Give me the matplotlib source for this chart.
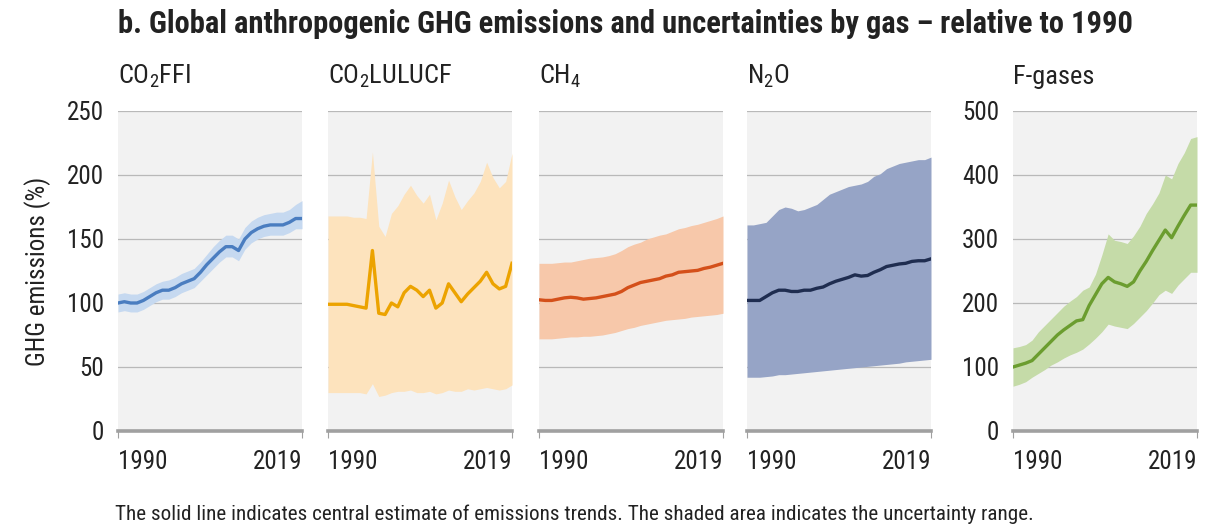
import numpy as np
import matplotlib.pyplot as plt
from matplotlib import font_manager as fm

# condensed face if there is one, else a plain sans with smaller text
avail = {f.name for f in fm.fontManager.ttflist}
cands = ['Roboto Condensed', 'Archivo Narrow', 'Asap Condensed', 'Open Sans Condensed']
fam = next((c for c in cands if c in avail), None)
k = 1.0
if fam is None:
    fam = 'Liberation Sans'
    k = 0.82
plt.rcParams['font.family'] = [fam, 'DejaVu Sans']
plt.rcParams['mathtext.fontset'] = 'custom'
plt.rcParams['mathtext.rm'] = fam
plt.rcParams['mathtext.it'] = fam

years = np.arange(1990, 2020)

# CO2 from fossil fuels and industry
co2ffi = [100, 101, 100, 100, 102, 105, 108, 110, 110, 112, 115, 117, 119, 124, 130,
          135, 140, 144, 144, 141, 150, 155, 158, 160, 161, 161, 161, 163, 166, 166]
co2ffi_lo = [93, 94, 93, 93, 95, 98, 101, 103, 103, 105, 108, 110, 112, 117, 122,
             127, 132, 136, 136, 133, 142, 147, 150, 152, 153, 153, 153, 155, 158, 158]
co2ffi_hi = [107, 108, 107, 107, 109, 112, 115, 117, 118, 120, 123, 125, 127, 132, 138,
             144, 149, 153, 153, 150, 159, 164, 167, 169, 170, 171, 171, 173, 177, 180]

# CO2 from land use, land-use change and forestry
co2lu = [99, 99, 99, 99, 98, 97, 96, 141, 92, 91, 100, 97, 108, 113, 110,
         105, 110, 96, 100, 115, 108, 101, 107, 112, 117, 124, 115, 111, 113, 131]
co2lu_lo = [30, 30, 30, 30, 30, 30, 29, 37, 27, 28, 30, 31, 31, 32, 30,
            30, 31, 29, 30, 32, 31, 31, 33, 32, 33, 34, 33, 32, 33, 36]
co2lu_hi = [168, 168, 168, 168, 167, 167, 166, 218, 160, 152, 170, 176, 185, 192, 184,
            178, 185, 165, 178, 196, 183, 173, 180, 186, 195, 210, 198, 190, 195, 217]

ch4 = [102.5, 102, 102, 103, 104, 104.5, 104, 103, 103.5, 104, 105, 106, 107, 109, 112,
       114, 116, 117, 118, 119, 121, 122, 124, 124.5, 125, 125.5, 127, 128, 129.5, 131]
ch4_lo = [72, 72, 72, 72.5, 73, 73.5, 73.5, 74, 74, 74.5, 75, 76, 77, 78.5, 80,
          81, 82.5, 83.5, 84.5, 85.5, 86.5, 87, 87.5, 88, 89, 89.5, 90, 90.5, 91, 92]
ch4_hi = [131, 131, 131, 131.5, 132, 132, 133, 134, 135, 135.5, 136, 137, 138.5, 141, 144,
          146, 147.5, 150, 151.5, 153, 154, 156, 158, 159, 160.5, 161.5, 163, 164.5, 166, 168]

n2o = [102, 102, 102, 105, 108, 110, 110, 109, 109, 110, 110, 111.5, 112.5, 115, 117,
       118.5, 120, 122, 121, 121.5, 124, 126, 128.5, 129.5, 130.5, 131, 132.5, 133, 133, 134.5]
n2o_lo = [42, 42, 42, 42.5, 43, 44, 44, 44.5, 45, 45.5, 46, 46.5, 47, 47.5, 48,
          48.5, 49, 49.5, 50, 50.5, 51, 51.5, 52, 52.5, 53, 54, 54.5, 55, 55.5, 56]
n2o_hi = [161, 161, 162, 163, 168, 173, 175, 174, 172, 173, 175, 177, 181, 185, 187,
          189, 191, 192, 193, 195, 199, 201, 205, 207, 209, 210, 211, 212, 212, 214]

fgas = [100, 103, 106, 110, 120, 130, 140, 150, 158, 165, 172, 174, 196, 213, 230,
        240, 233, 230, 226, 233, 250, 265, 282, 298, 314, 302, 320, 337, 353, 353]
fgas_lo = [70, 73, 77, 84, 90, 96, 103, 108, 114, 119, 123, 128, 136, 145, 155,
           167, 164, 162, 160, 168, 178, 188, 200, 213, 220, 215, 228, 238, 248, 248]
fgas_hi = [130, 132, 135, 142, 155, 165, 175, 185, 195, 203, 210, 220, 225, 245, 275,
           308, 298, 296, 293, 305, 320, 340, 355, 372, 400, 394, 418, 435, 457, 460]

names = ['CO$_2$FFI', 'CO$_2$LULUCF', 'CH$_4$', 'N$_2$O', 'F-gases']
centres = [co2ffi, co2lu, ch4, n2o, fgas]
lows = [co2ffi_lo, co2lu_lo, ch4_lo, n2o_lo, fgas_lo]
highs = [co2ffi_hi, co2lu_hi, ch4_hi, n2o_hi, fgas_hi]
line_cols = ['#4a7dc0', '#eca300', '#d4501a', '#1f2d50', '#6b9d2f']
band_cols = ['#c6d9f0', '#fde3bd', '#f7c8aa', '#96a4c6', '#c5dba8']

W, H = 1214, 528
fig = plt.figure(figsize=(W / 100, H / 100), dpi=100)

lefts = [118, 328, 539, 747, 1013]
for i in range(5):
    ax = fig.add_axes([lefts[i] / W, 97 / H, 184 / W, 320 / H])
    ax.set_facecolor('#f2f2f2')
    ax.fill_between(years, lows[i], highs[i], color=band_cols[i], lw=0, zorder=2)
    ax.plot(years, centres[i], color=line_cols[i], lw=2.4, zorder=3)

    top = 500 if i == 4 else 250
    step = 100 if i == 4 else 50
    ax.set_ylim(0, top)
    ax.set_xlim(1990, 2019)
    ax.set_yticks(np.arange(0, top + 1, step))
    for v in np.arange(step, top + 1, step):
        ax.axhline(v, color='#b9b9b9', lw=0.9, zorder=1)

    for s in ['top', 'right', 'left']:
        ax.spines[s].set_visible(False)
    ax.spines['bottom'].set_color('#a0a0a0')
    ax.spines['bottom'].set_linewidth(2.6)
    ax.spines['bottom'].set_zorder(4)

    ax.set_xticks([1990, 2019])
    ax.set_xticklabels(['1990', '2019'])
    labs = ax.get_xticklabels()
    labs[0].set_ha('left')
    labs[1].set_ha('right')
    ax.tick_params(axis='x', length=5, width=0.8, color='#a0a0a0', pad=9,
                   labelsize=18 * k, labelcolor='#222222')
    ax.tick_params(axis='y', length=0, pad=10, labelsize=18 * k, labelcolor='#222222')
    if i not in (0, 4):
        ax.set_yticklabels([])

    fig.text(lefts[i] / W, 1 - 84 / H, names[i], fontsize=19 * k, color='#222222',
             ha='left', va='baseline')

fig.text(118 / W, 1 - 33 / H,
         'b. Global anthropogenic GHG emissions and uncertainties by gas \u2013 relative to 1990',
         fontsize=22 * k, fontweight='bold', color='#222222', ha='left', va='baseline')
fig.text(38 / W, 1 - 271 / H, 'GHG emissions (%)', rotation=90, fontsize=18 * k,
         color='#222222', ha='center', va='center')
fig.text(115 / W, 1 - 520 / H,
         'The solid line indicates central estimate of emissions trends. '
         'The shaded area indicates the uncertainty range.',
         fontsize=15.2 * k, color='#222222', ha='left', va='baseline')

fig.savefig('out.png', dpi=100)
